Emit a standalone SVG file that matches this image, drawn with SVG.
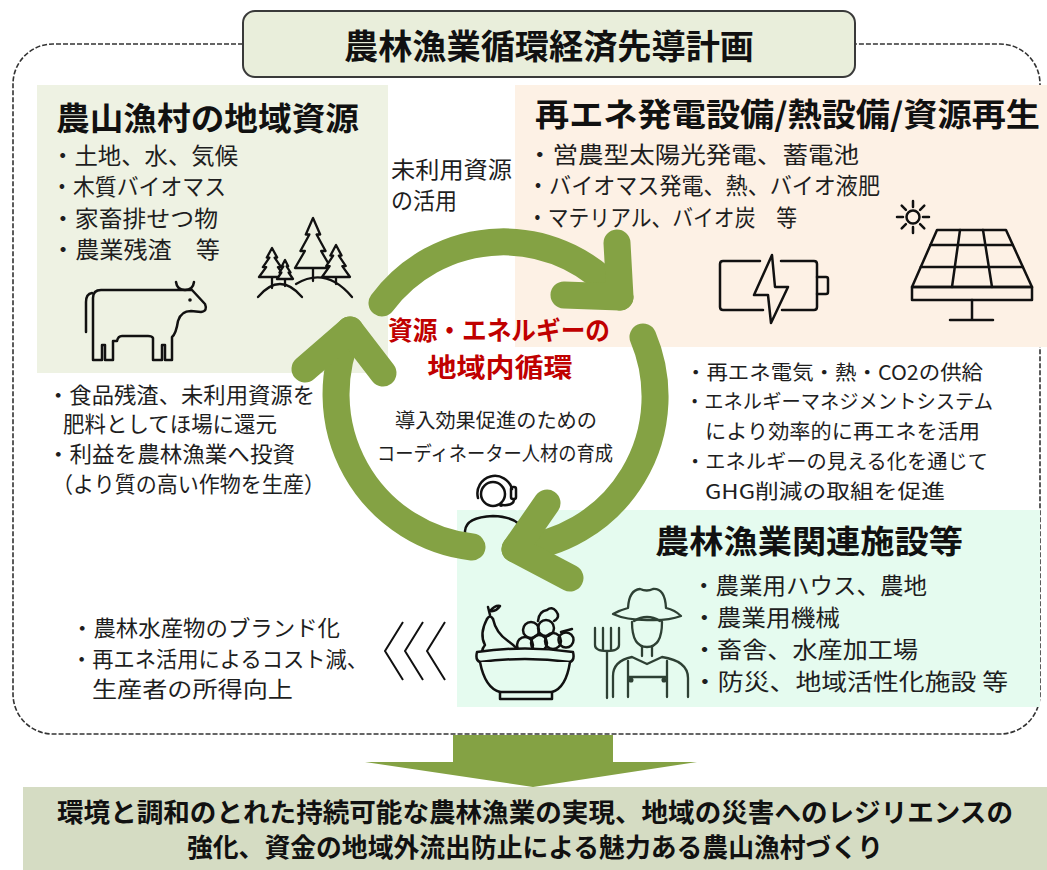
<svg xmlns="http://www.w3.org/2000/svg" width="1047" height="870" viewBox="0 0 1047 870">
  <style>
    .t{font-family:"Noto Sans CJK JP","Noto Sans",sans-serif;fill:#1e1e1e}
    .b{font-weight:700;fill:#111}
    .h{font-size:32px}
    .m{font-size:23px}
    .s{font-size:22px}
    .x{font-size:20px}
    .ic{fill:none;stroke:#111;stroke-width:2.5;stroke-linecap:round;stroke-linejoin:round}
    .fm{fill:none;stroke:#2e4034;stroke-width:2.3;stroke-linecap:round;stroke-linejoin:round}
    .arr{fill:none;stroke:#84a244;stroke-width:27;stroke-linecap:round;stroke-linejoin:round}
  </style>
  <rect width="1047" height="870" fill="#fff"/>

  <!-- dashed frame around the plan -->
  <path d="M243,44 H53 A40,40 0 0 0 13,84 V694 A40,40 0 0 0 53,734 H1000 A40,40 0 0 0 1040,694 V84 A40,40 0 0 0 1000,44 H855" fill="none" stroke="#333" stroke-width="1.6" stroke-dasharray="5 2"/>

  <!-- title -->
  <g id="title">
    <rect x="243" y="11" width="612" height="66" rx="12" fill="#e9eedb" stroke="#3a3a3a" stroke-width="2"/>
    <text class="t b" x="549" y="59" font-size="34" text-anchor="middle" textLength="410" lengthAdjust="spacingAndGlyphs">農林漁業循環経済先導計画</text>
  </g>

  <!-- local resources -->
  <g id="resources">
    <rect x="37" y="85" width="351" height="288" fill="#eef2e3"/>
    <text class="t b h" x="56" y="130" textLength="303" lengthAdjust="spacingAndGlyphs">農山漁村の地域資源</text>
    <text class="t m" x="51" y="164" textLength="187" lengthAdjust="spacingAndGlyphs">・土地、水、気候</text>
    <text class="t m" x="51" y="195" textLength="175" lengthAdjust="spacingAndGlyphs">・木質バイオマス</text>
    <text class="t m" x="51" y="227" textLength="167" lengthAdjust="spacingAndGlyphs">・家畜排せつ物</text>
    <text class="t m" x="51" y="258" textLength="169" lengthAdjust="spacingAndGlyphs">・農業残渣　等</text>
    <!-- trees -->
    <g fill="#eef2e3" stroke="#111" stroke-width="2.3" stroke-linejoin="round" stroke-linecap="round">
      <path d="M296,284 Q326,266 352,297" fill="none"/>
      <path d="M258,297 Q280,271 302,297" fill="none"/>
      <path d="M313,268 V281 M336,277 V284 M272,277 V288 M285,279 V286" fill="none"/>
      <polygon points="313,218 305.8,234.5 309.4,234.5 300.4,251 304.9,251 295,268 331,268 321.1,251 325.6,251 316.6,234.5 320.2,234.5"/>
      <polygon points="336,245 330.4,255.6 333.2,255.6 326.2,266.1 329.7,266.1 322,277 350,277 342.3,266.1 345.8,266.1 338.8,255.6 341.6,255.6"/>
      <polygon points="272,248 266.8,257.6 269.4,257.6 262.9,267.1 266.2,267.1 259,277 285,277 277.9,267.1 281.1,267.1 274.6,257.6 277.2,257.6"/>
      <polygon points="285,260 281.8,266.3 283.4,266.3 279.4,272.5 281.4,272.5 277,279 293,279 288.6,272.5 290.6,272.5 286.6,266.3 288.2,266.3"/>
    </g>
    <!-- cow -->
    <path class="ic" d="M93,360 V298 Q93,290 101,290 H192 L205,304 Q208,311 201,312 L191,311 Q181,311 178,321 Q176,334 172,337 V360 H165 V345 H162 V360 H153 V338 Q152,336 148,336 H122 Q118,336 117,341 H113 V360 H105 V345 H102 V360 Z"/>
    <path class="ic" d="M86,332 V302 Q86,294 92,293"/>
    <path class="ic" d="M176,282 Q177,290 185,290 Q193,290 194,282"/>
    <circle cx="190" cy="300" r="1.8" fill="#111"/>
  </g>

  <text class="t m" x="391" y="178" textLength="121" lengthAdjust="spacingAndGlyphs">未利用資源</text>
  <text class="t m" x="391" y="209" textLength="66" lengthAdjust="spacingAndGlyphs">の活用</text>

  <!-- renewable energy facilities -->
  <g id="energy">
    <rect x="515" y="85" width="532" height="262" fill="#fdf1e5"/>
    <text class="t b h" x="535" y="126" textLength="505" lengthAdjust="spacingAndGlyphs">再エネ発電設備/熱設備/資源再生</text>
    <text class="t m" x="527" y="163" textLength="332" lengthAdjust="spacingAndGlyphs">・営農型太陽光発電、蓄電池</text>
    <text class="t m" x="527" y="194" textLength="353" lengthAdjust="spacingAndGlyphs">・バイオマス発電、熱、バイオ液肥</text>
    <text class="t m" x="527" y="226" textLength="270" lengthAdjust="spacingAndGlyphs">・マテリアル、バイオ炭　等</text>
    <!-- battery -->
    <g class="ic" stroke-width="2.2">
      <path d="M760,261 H723 Q720,261 720,264 V307 Q720,310 723,310 H763"/>
      <path d="M781,261 H814 Q817,261 817,264 V307 Q817,310 814,310 H782"/>
      <path d="M817,277 H826 Q828,277 828,279 V292 Q828,294 826,294 H817"/>
      <polygon points="772,255 754,295 768,295 771,323 788,287 775,287"/>
    </g>
    <!-- sun -->
    <g class="ic" stroke-width="2.2">
      <circle cx="913" cy="217" r="6.5"/>
      <path d="M897,217 H903 M923,217 H929 M913,201 V207 M913,227 V233 M901.7,205.7 L905.9,209.9 M920.1,224.1 L924.3,228.3 M924.3,205.7 L920.1,209.9 M905.9,224.1 L901.7,228.3"/>
    </g>
    <!-- solar panel -->
    <g class="ic" stroke-width="2.4">
      <polygon points="937,230 1006,230 1032,287 912,287"/>
      <rect x="912" y="287" width="120" height="13"/>
      <path d="M930.4,245 H1012.8 M920.8,267 H1022.9 M960,230 L952,287 M983,230 L992,287 M972,300 V320 M950,320 H993"/>
    </g>
  </g>

  <!-- outcomes on the right -->
  <g id="supply">
    <text class="t x" x="685" y="380" textLength="298" lengthAdjust="spacingAndGlyphs">・再エネ電気・熱・CO2の供給</text>
    <text class="t x" x="685" y="409" textLength="308" lengthAdjust="spacingAndGlyphs">・エネルギーマネジメントシステム</text>
    <text class="t x" x="705" y="439" textLength="275" lengthAdjust="spacingAndGlyphs">により効率的に再エネを活用</text>
    <text class="t x" x="685" y="469" textLength="303" lengthAdjust="spacingAndGlyphs">・エネルギーの見える化を通じて</text>
    <text class="t x" x="705" y="499" textLength="240" lengthAdjust="spacingAndGlyphs">GHG削減の取組を促進</text>
  </g>

  <!-- returns on the left -->
  <g id="returns">
    <text class="t s" x="47" y="403" textLength="268" lengthAdjust="spacingAndGlyphs">・食品残渣、未利用資源を</text>
    <text class="t s" x="63" y="432" textLength="214" lengthAdjust="spacingAndGlyphs">肥料としてほ場に還元</text>
    <text class="t s" x="47" y="462" textLength="248" lengthAdjust="spacingAndGlyphs">・利益を農林漁業へ投資</text>
    <text class="t s" x="52" y="492" textLength="273" lengthAdjust="spacingAndGlyphs">（より質の高い作物を生産）</text>
  </g>

  <!-- facilities -->
  <g id="facilities">
    <rect x="457" y="510" width="583" height="197" fill="#e5fbef"/>
    <text class="t b h" x="655" y="553" textLength="308" lengthAdjust="spacingAndGlyphs">農林漁業関連施設等</text>
    <text class="t m" x="692" y="594" textLength="235" lengthAdjust="spacingAndGlyphs">・農業用ハウス、農地</text>
    <text class="t m" x="692" y="626" textLength="148" lengthAdjust="spacingAndGlyphs">・農業用機械</text>
    <text class="t m" x="692" y="658" textLength="226" lengthAdjust="spacingAndGlyphs">・畜舎、水産加工場</text>
    <text class="t m" x="692" y="690" textLength="316" lengthAdjust="spacingAndGlyphs">・防災、地域活性化施設 等</text>
    <!-- fruit bowl -->
    <g class="ic" stroke-width="2.3">
      <path d="M487,619 Q479,634 485,645 Q480,651 484,656"/>
      <path d="M493,619 Q496,633 508,641 Q518,648 521,655"/>
      <path d="M487,619 Q490,614 493,619 M490,615 L488,607"/>
      <path d="M490,611 Q495,605 500,606 Q496,612 490,611 Z"/>
      <circle cx="531" cy="630" r="8"/>
      <circle cx="546" cy="628" r="8"/>
      <circle cx="525" cy="645" r="8"/>
      <circle cx="539" cy="643" r="8"/>
      <circle cx="553" cy="641" r="8"/>
      <circle cx="566" cy="640" r="7.5"/>
      <path d="M538,621 Q539,611 547,610 Q552,606 556,611 Q561,617 554,621"/>
      <path d="M561,632 L572,629"/>
      <path d="M477,652 Q525,645 573,652 Q575,660 570,662 Q525,656 480,662 Q475,660 477,652 Z" fill="#e5fbef"/>
      <path d="M480,662 Q485,688 500,692 H552 Q566,688 570,662" fill="#e5fbef"/>
      <path d="M500,692 V699 H552 V692"/>
    </g>
    <!-- farmer -->
    <g class="fm">
      <path d="M613,614 Q620,610 628,608 Q629,590 640,589 Q647,592 653,589 Q665,588 666,608 Q675,610 681,616 Q668,621 647,620 Q626,620 613,614 Z"/>
      <path d="M634,621 Q647,613 660,621"/>
      <path d="M632,622 Q632,647 647,647 Q662,647 662,622"/>
      <path d="M642,647 V656 M652,647 V656"/>
      <path d="M613,697 V676 Q613,661 632,657 L647,664 L662,657 Q688,661 688,678 V697"/>
      <path d="M628,661 V677 M667,661 V677 M628,677 H667 M628,677 V697 M667,677 V697"/>
      <circle cx="631" cy="680" r="1.4" fill="#2e4034"/>
      <circle cx="664" cy="680" r="1.4" fill="#2e4034"/>
      <path d="M595,628 V645 Q595,651 607,651 Q619,651 619,645 V628 M603,628 V650 M611,628 V650 M607,651 V698"/>
    </g>
  </g>

  <!-- coordinator -->
  <g id="coordinator">
    <text class="t x" x="496" y="428" text-anchor="middle" textLength="202" lengthAdjust="spacingAndGlyphs" fill="#333">導入効果促進のための</text>
    <text class="t x" x="495" y="461" text-anchor="middle" textLength="236" lengthAdjust="spacingAndGlyphs" fill="#333">コーディネーター人材の育成</text>
    <g class="ic" stroke-width="2.2">
      <circle cx="493" cy="494" r="12"/>
      <path d="M478,498 A17,17 0 1 1 512,489"/>
      <rect x="511" y="487" width="5" height="12" rx="2"/>
      <path d="M514,500 Q513,506 502,505"/>
      <path d="M465,545 V531 Q466,517 493,516 Q520,517 523,532"/>
    </g>
    <circle cx="501" cy="505" r="2" fill="#111"/>
  </g>

  <!-- brand / income -->
  <g id="value">
    <text class="t s" x="71" y="636" textLength="269" lengthAdjust="spacingAndGlyphs">・農林水産物のブランド化</text>
    <text class="t s" x="71" y="667" textLength="297" lengthAdjust="spacingAndGlyphs">・再エネ活用によるコスト減、</text>
    <text class="t s" x="92" y="697" textLength="201" lengthAdjust="spacingAndGlyphs">生産者の所得向上</text>
    <path d="M403,622 L385,651 L403,680 M423,622 L405,651 L423,680 M445,622 L427,651 L445,680" fill="none" stroke="#111" stroke-width="2"/>
  </g>

  <!-- circulation label -->
  <g id="cycle-label">
    <text class="t b" x="499" y="340" font-size="26" text-anchor="middle" textLength="222" lengthAdjust="spacingAndGlyphs" style="fill:#c00000">資源・エネルギーの</text>
    <text class="t b" x="500" y="377" font-size="26" text-anchor="middle" textLength="145" lengthAdjust="spacingAndGlyphs" style="fill:#c00000">地域内循環</text>
  </g>

  <!-- circular arrows -->
  <g id="connectors">
    <path class="arr" d="M382,303 A151,151 0 0 1 620,297"/>
    <path class="arr" d="M617,243 L620,297 L564,295"/>
    <path class="arr" d="M643,337 A153,153 0 0 1 515,549"/>
    <path class="arr" d="M547,503 L515,549 L570,578"/>
    <path class="arr" d="M472,547 A154,154 0 0 1 350,330"/>
    <path class="arr" d="M305,369 L350,330 L383,373"/>
    <polygon points="453,735 613,735 613,762 697,762 533,787 365,762 453,762" fill="#84a244"/>
  </g>

  <!-- goal -->
  <g id="goal">
    <rect x="23" y="787" width="1024" height="83" fill="#d5dcc3"/>
    <text class="t b" x="535" y="822" font-size="26" text-anchor="middle" textLength="956" lengthAdjust="spacingAndGlyphs">環境と調和のとれた持続可能な農林漁業の実現、地域の災害へのレジリエンスの</text>
    <text class="t b" x="535" y="857" font-size="26" text-anchor="middle" textLength="696" lengthAdjust="spacingAndGlyphs">強化、資金の地域外流出防止による魅力ある農山漁村づくり</text>
  </g>
</svg>
